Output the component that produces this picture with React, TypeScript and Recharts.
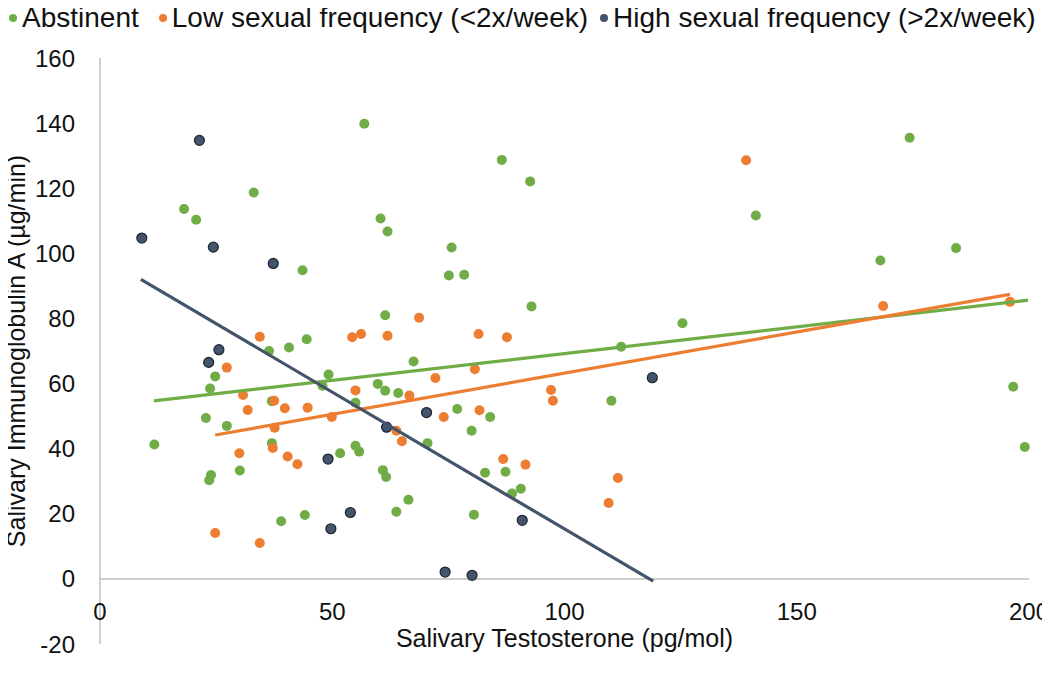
import React from 'react';
import { ScatterChart, Scatter, XAxis, YAxis, ReferenceLine, Legend } from 'recharts';

const xTicks = [0, 50, 100, 150, 200];
const yTicks = [-20, 0, 20, 40, 60, 80, 100, 120, 140, 160];

const abstinent = [
  { x: 18.1, y: 113.6 }, { x: 20.7, y: 110.3 }, { x: 33.1, y: 118.7 }, { x: 43.6, y: 94.8 },
  { x: 44.5, y: 73.6 }, { x: 36.4, y: 70.0 }, { x: 40.7, y: 71.1 }, { x: 24.8, y: 62.2 },
  { x: 23.7, y: 58.5 }, { x: 49.2, y: 62.8 }, { x: 47.9, y: 59.3 }, { x: 37.0, y: 54.6 },
  { x: 22.8, y: 49.4 }, { x: 27.3, y: 47.0 }, { x: 11.7, y: 41.3 }, { x: 37.0, y: 41.7 },
  { x: 51.7, y: 38.6 }, { x: 23.9, y: 31.9 }, { x: 23.5, y: 30.3 }, { x: 30.1, y: 33.3 },
  { x: 39.0, y: 17.7 }, { x: 44.1, y: 19.6 }, { x: 56.9, y: 139.8 }, { x: 86.5, y: 128.7 },
  { x: 92.6, y: 122.1 }, { x: 60.4, y: 110.7 }, { x: 61.9, y: 106.7 }, { x: 75.7, y: 101.8 },
  { x: 75.1, y: 93.2 }, { x: 78.4, y: 93.4 }, { x: 92.9, y: 83.7 }, { x: 61.4, y: 81.0 },
  { x: 67.5, y: 66.8 }, { x: 59.8, y: 59.9 }, { x: 61.4, y: 57.8 }, { x: 64.2, y: 57.1 },
  { x: 55.0, y: 54.1 }, { x: 76.9, y: 52.2 }, { x: 84.0, y: 49.7 }, { x: 80.0, y: 45.5 },
  { x: 70.5, y: 41.7 }, { x: 55.0, y: 40.9 }, { x: 55.8, y: 39.1 }, { x: 60.9, y: 33.4 },
  { x: 61.6, y: 31.3 }, { x: 82.9, y: 32.6 }, { x: 87.3, y: 32.9 }, { x: 90.6, y: 27.7 },
  { x: 88.7, y: 26.2 }, { x: 66.4, y: 24.3 }, { x: 63.8, y: 20.6 }, { x: 80.5, y: 19.7 },
  { x: 141.2, y: 111.6 }, { x: 125.4, y: 78.5 }, { x: 112.2, y: 71.3 }, { x: 110.1, y: 54.7 },
  { x: 174.3, y: 135.5 }, { x: 184.3, y: 101.6 }, { x: 168.0, y: 97.8 }, { x: 196.6, y: 59.0 },
  { x: 199.1, y: 40.5 },
];

const lowFreq = [
  { x: 34.4, y: 74.4 }, { x: 27.3, y: 64.9 }, { x: 30.8, y: 56.5 }, { x: 37.5, y: 54.7 },
  { x: 31.8, y: 51.9 }, { x: 39.8, y: 52.4 }, { x: 44.7, y: 52.6 }, { x: 49.9, y: 49.7 },
  { x: 37.6, y: 46.4 }, { x: 37.2, y: 40.2 }, { x: 30.0, y: 38.6 }, { x: 40.4, y: 37.6 },
  { x: 42.5, y: 35.2 }, { x: 24.8, y: 14.1 }, { x: 34.4, y: 11.0 }, { x: 68.7, y: 80.2 },
  { x: 54.3, y: 74.2 }, { x: 56.2, y: 75.2 }, { x: 61.9, y: 74.7 }, { x: 81.5, y: 75.2 },
  { x: 87.6, y: 74.2 }, { x: 80.7, y: 64.4 }, { x: 72.2, y: 61.7 }, { x: 66.6, y: 56.3 },
  { x: 55.0, y: 57.9 }, { x: 97.1, y: 58.0 }, { x: 97.5, y: 54.7 }, { x: 81.7, y: 51.8 },
  { x: 74.0, y: 49.7 }, { x: 63.8, y: 45.5 }, { x: 65.0, y: 42.3 }, { x: 86.8, y: 36.8 },
  { x: 91.6, y: 35.1 }, { x: 139.1, y: 128.6 }, { x: 111.5, y: 31.0 }, { x: 109.5, y: 23.3 },
  { x: 168.6, y: 83.8 }, { x: 195.9, y: 85.1 },
];

const highFreq = [
  { x: 21.4, y: 134.7 }, { x: 9.0, y: 104.7 }, { x: 24.4, y: 101.9 }, { x: 37.3, y: 96.9 },
  { x: 25.6, y: 70.4 }, { x: 23.4, y: 66.5 }, { x: 49.1, y: 36.8 }, { x: 49.7, y: 15.4 },
  { x: 70.3, y: 51.1 }, { x: 61.7, y: 46.6 }, { x: 53.9, y: 20.4 }, { x: 90.9, y: 18.0 },
  { x: 74.3, y: 2.1 }, { x: 80.1, y: 1.1 }, { x: 118.9, y: 61.8 },
];

const abstinentTrend = [{ x: 11.6, y: 54.7 }, { x: 199.8, y: 85.6 }];
const lowFreqTrend = [{ x: 24.8, y: 44.2 }, { x: 195.9, y: 87.4 }];
const highFreqTrend = [{ x: 8.8, y: 92.0 }, { x: 119.1, y: -0.7 }];

const seriesNames = ['Abstinent', 'Low sexual frequency (<2x/week)', 'High sexual frequency (>2x/week)'];
const GREEN = '#70AD47';
const ORANGE = '#ED7D31';
const DARK = '#44546A';
const seriesColors = [GREEN, ORANGE, DARK];

const FONT = '"Liberation Sans", Arial, sans-serif';
const AXIS_GRAY = '#BFBFBF';

const makeDot = (fill: string, stroke?: string) => (p: any) => (
  <circle cx={p.cx} cy={p.cy} r={5} fill={fill} stroke={stroke || 'none'} strokeWidth={stroke ? 1.2 : 0} />
);
const noDot = () => <g />;

const XTick = (props: any) => (
  <text x={props.x} y={props.y - 24} textAnchor="middle" fill="#111" fontSize={24} fontFamily={FONT}>
    {props.payload.value}
  </text>
);

const renderLegend = () => (
  <div style={{ display: 'flex', alignItems: 'center', fontFamily: FONT, fontSize: 28, color: '#111', whiteSpace: 'nowrap', paddingLeft: 9, paddingTop: 5, lineHeight: '26px' }}>
    {seriesNames.map((n, i) => (
      <span key={n} style={{ display: 'flex', alignItems: 'center', flexShrink: 0, marginRight: i === 0 ? 20 : i === 1 ? 12 : 0 }}>
        <span style={{ display: 'inline-block', flexShrink: 0, width: 8, height: 8, borderRadius: '50%', background: seriesColors[i], marginRight: 5 }} />
        {n}
      </span>
    ))}
  </div>
);

export default function App() {
  return (
    <div style={{ margin: -8 }}>
      <ScatterChart width={1050} height={679} margin={{ top: 58, right: 21, bottom: 0, left: 0 }}>
        <XAxis
          type="number"
          dataKey="x"
          domain={[0, 200]}
          ticks={xTicks}
          interval={0}
          axisLine={false}
          tickLine={false}
          tickSize={0}
          tickMargin={0}
          height={35}
          tick={XTick}
          label={{ value: 'Salivary Testosterone (pg/mol)', position: 'insideBottom', offset: 32, style: { fontSize: 25, fontFamily: FONT, fill: '#111' } }}
        />
        <YAxis
          type="number"
          dataKey="y"
          domain={[-20, 160]}
          ticks={yTicks}
          interval={0}
          width={100}
          axisLine={{ stroke: AXIS_GRAY, strokeWidth: 1.5 }}
          tickLine={false}
          tickSize={0}
          tickMargin={25}
          tick={{ fontSize: 24, fontFamily: FONT, fill: '#111' }}
          label={{ value: 'Salivary Immunoglobulin A (µg/min)', angle: -90, position: 'insideLeft', offset: 16, style: { textAnchor: 'middle', fontSize: 25, fontFamily: FONT, fill: '#111' } }}
        />
        <ReferenceLine y={0} stroke={AXIS_GRAY} strokeWidth={1.5} />
        <Legend verticalAlign="middle" align="center" layout="horizontal" content={renderLegend} wrapperStyle={{ top: 0, left: 0, width: 1050 }} />
        <Scatter name={seriesNames[0]} data={abstinent} fill={GREEN} shape={makeDot(GREEN)} isAnimationActive={false} />
        <Scatter name={seriesNames[1]} data={lowFreq} fill={ORANGE} shape={makeDot(ORANGE)} isAnimationActive={false} />
        <Scatter name={seriesNames[2]} data={highFreq} fill={DARK} shape={makeDot(DARK, '#1c2533')} isAnimationActive={false} />
        <Scatter data={abstinentTrend} line={{ stroke: GREEN, strokeWidth: 3.2 }} shape={noDot} isAnimationActive={false} legendType="none" />
        <Scatter data={lowFreqTrend} line={{ stroke: ORANGE, strokeWidth: 3.2 }} shape={noDot} isAnimationActive={false} legendType="none" />
        <Scatter data={highFreqTrend} line={{ stroke: DARK, strokeWidth: 3.2 }} shape={noDot} isAnimationActive={false} legendType="none" />
      </ScatterChart>
    </div>
  );
}
